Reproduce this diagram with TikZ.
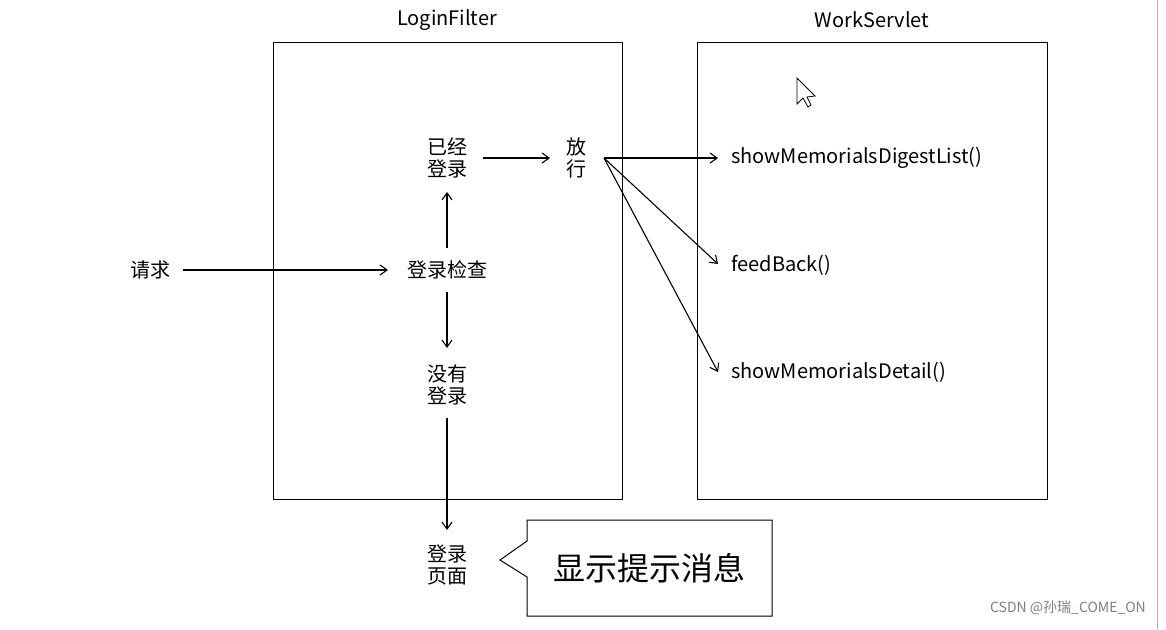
\documentclass[tikz,border=0pt]{standalone}
\usepackage{fontspec}
\setmainfont{Noto Sans CJK SC}
\usetikzlibrary{arrows.meta}
\begin{document}
\begin{tikzpicture}[x=1pt,y=-1pt,
  box/.style={draw,line width=1pt},
  lbl/.style={font=\fontsize{20}{25}\selectfont,align=center,inner sep=1pt},
  fn/.style={font=\fontsize{20}{25}\selectfont,anchor=west,inner sep=1pt},
  arr/.style={->,line width=1.1pt,>={Straight Barb[length=7pt,width=10pt]}}]
\useasboundingbox (0,0) rectangle (1166,629);
\fill[white] (0,0) rectangle (1166,629);
\draw[gray!60] (1157,0) -- (1157,629);
\draw[box] (273,42) rectangle (622,499);
\draw[box] (697,42) rectangle (1047,499);
\node[lbl] (t1) at (447,20) {LoginFilter};
\node[lbl] (t2) at (872,20) {WorkServlet};
\node[lbl] (req) at (150,270) {请求};
\node[lbl] (chk) at (447,270) {登录检查};
\node[lbl] (yes) at (447,158) {已经\\[-3pt]登录};
\node[lbl] (pass) at (576,158) {放\\[-3pt]行};
\node[lbl] (no) at (447,385) {没有\\[-3pt]登录};
\node[lbl] (page) at (447,565) {登录\\[-3pt]页面};
\node[fn] (f1) at (730,158) {showMemorialsDigestList()};
\node[fn] (f2) at (730,265) {feedBack()};
\node[fn] (f3) at (730,372) {showMemorialsDetail()};
\coordinate (p) at (604,158);
\coordinate (q1) at (718,158);
\coordinate (q2) at (718,264);
\coordinate (q3) at (718,372);
\draw[arr] (req.east) ++(12,0) -- (388,270);
\draw[arr] (447,248) -- (447,192);
\draw[arr] (447,292) -- (447,348);
\draw[arr] (483,158) -- (550,158);
\draw[arr] (447,418) -- (447,530);
\draw[arr] (p) -- (q1);
\draw[arr] (p) -- (q2);
\draw[arr] (p) -- (q3);
\draw[line width=1pt] (527,520) -- (772,520) -- (772,616) -- (527,616) -- (527,577) -- (500,560) -- (527,541) -- cycle;
\node[font=\fontsize{32}{36}\selectfont] (msg) at (649,568) {显示提示消息};
\draw[fill=white,line width=0.8pt] (797,78) -- (797,104) -- (803,98) -- (808,107) -- (811,105) -- (807,97) -- (815,96) -- cycle;
\node[font=\fontsize{14}{16}\selectfont,text=gray] (wm) at (1068,608) {CSDN @孙瑞\_COME\_ON};
\end{tikzpicture}
\end{document}
